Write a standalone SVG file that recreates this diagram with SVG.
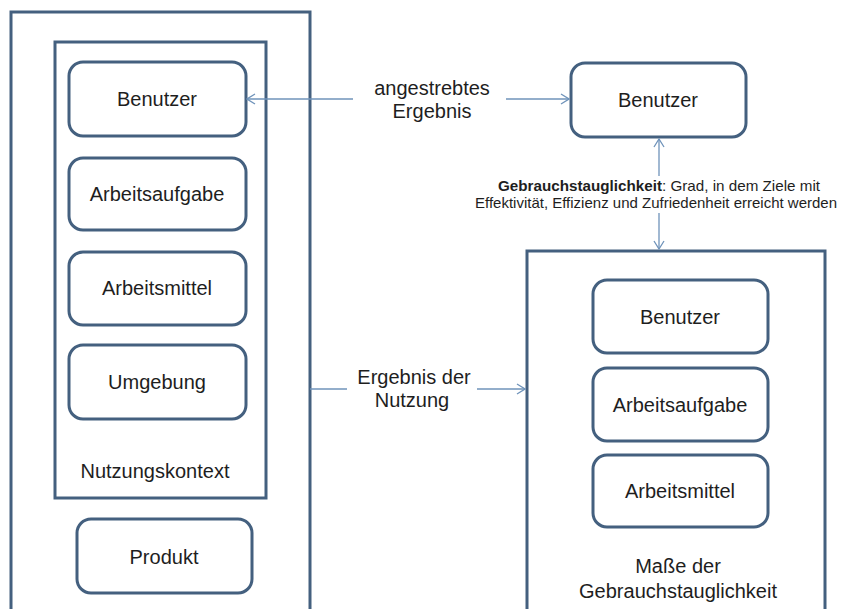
<svg xmlns="http://www.w3.org/2000/svg" width="843" height="609" viewBox="0 0 843 609">
<defs>
<style>
.frame{fill:none;stroke:#44607f;stroke-width:3}
.box{fill:#fff;stroke:#44607f;stroke-width:3}
.lbl{font-family:"Liberation Sans",Arial,sans-serif;font-size:20px;fill:#1e1e1e;text-anchor:middle}
.small{font-family:"Liberation Sans",Arial,sans-serif;font-size:15px;fill:#1e1e1e;text-anchor:middle}
.con{fill:none;stroke:#6f93ba;stroke-width:1.3}
</style>
<marker id="arr" markerWidth="10" markerHeight="12" refX="9" refY="6" orient="auto" markerUnits="userSpaceOnUse">
<path d="M1,1 L9,6 L1,11" fill="none" stroke="#6f93ba" stroke-width="1.3"/>
</marker>
</defs>
<rect width="843" height="609" fill="#fff"/>

<g id="produkt-frame">
<rect class="frame" x="11" y="12" width="299" height="620"/>
</g>
<g id="nutzungskontext">
<rect class="frame" x="55" y="42" width="211" height="456"/>
<text class="lbl" x="155" y="478">Nutzungskontext</text>
</g>
<g id="benutzer-l">
<rect class="box" x="69" y="62" width="177" height="74" rx="14"/>
<text class="lbl" x="157" y="106">Benutzer</text>
</g>
<g id="arbeitsaufgabe-l">
<rect class="box" x="69" y="158" width="177" height="72" rx="14"/>
<text class="lbl" x="157" y="201">Arbeitsaufgabe</text>
</g>
<g id="arbeitsmittel-l">
<rect class="box" x="69" y="252" width="177" height="73" rx="14"/>
<text class="lbl" x="157" y="295">Arbeitsmittel</text>
</g>
<g id="umgebung">
<rect class="box" x="69" y="345" width="177" height="74" rx="14"/>
<text class="lbl" x="157" y="389">Umgebung</text>
</g>
<g id="produkt">
<rect class="box" x="77" y="519" width="175" height="74" rx="14"/>
<text class="lbl" x="164" y="564">Produkt</text>
</g>

<g id="benutzer-r">
<rect class="box" x="571" y="63" width="175" height="74" rx="14"/>
<text class="lbl" x="658" y="107">Benutzer</text>
</g>

<g id="masse">
<rect class="frame" x="527" y="251" width="298" height="400"/>
<text class="lbl" x="678" y="573">Maße der</text>
<text class="lbl" x="678" y="598">Gebrauchstauglichkeit</text>
</g>
<g id="benutzer-m">
<rect class="box" x="593" y="280" width="175" height="73" rx="14"/>
<text class="lbl" x="680" y="324">Benutzer</text>
</g>
<g id="arbeitsaufgabe-m">
<rect class="box" x="593" y="368" width="175" height="73" rx="14"/>
<text class="lbl" x="680" y="412">Arbeitsaufgabe</text>
</g>
<g id="arbeitsmittel-m">
<rect class="box" x="593" y="455" width="175" height="72" rx="14"/>
<text class="lbl" x="680" y="498">Arbeitsmittel</text>
</g>

<g id="connectors">
<line class="con" x1="353" y1="99" x2="247" y2="99" marker-end="url(#arr)"/>
<line class="con" x1="506" y1="99" x2="569" y2="99" marker-end="url(#arr)"/>
<line class="con" x1="659" y1="176" x2="659" y2="139" marker-end="url(#arr)"/>
<line class="con" x1="659" y1="213" x2="659" y2="249" marker-end="url(#arr)"/>
<line class="con" x1="310" y1="389" x2="347" y2="389"/>
<line class="con" x1="477" y1="389" x2="525" y2="389" marker-end="url(#arr)"/>
<text class="lbl" x="432" y="95">angestrebtes</text>
<text class="lbl" x="432" y="118">Ergebnis</text>
<text class="lbl" x="414" y="384">Ergebnis der</text>
<text class="lbl" x="412" y="407">Nutzung</text>
<text class="small" x="659" y="191" textLength="322" lengthAdjust="spacingAndGlyphs"><tspan font-weight="bold">Gebrauchstauglichkeit</tspan>: Grad, in dem Ziele mit</text>
<text class="small" x="656" y="208" textLength="362" lengthAdjust="spacingAndGlyphs">Effektivität, Effizienz und Zufriedenheit erreicht werden</text>
</g>
</svg>
